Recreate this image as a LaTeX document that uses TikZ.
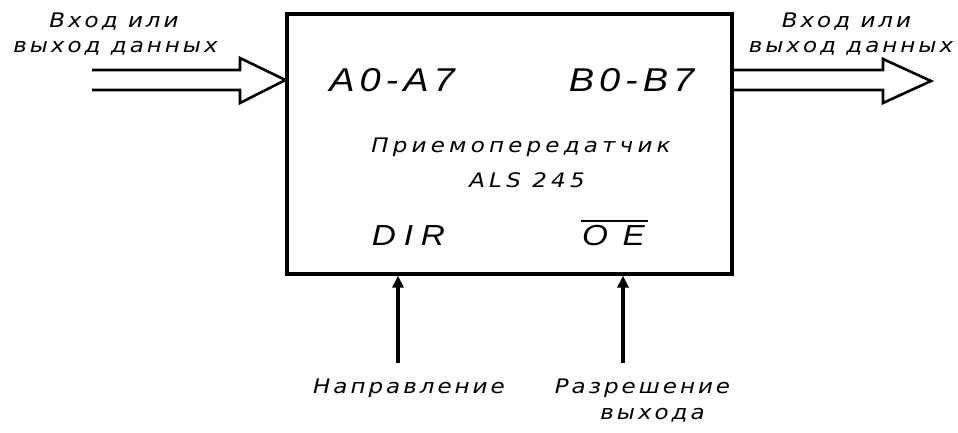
\documentclass[tikz,border=0pt]{standalone}
\usepackage{fontspec}
\usetikzlibrary{arrows.meta,calc}
\newfontfamily\labelfont[FakeStretch=1.15,LetterSpace=15]{DejaVu Sans Oblique}
\newfontfamily\pinfont[FakeStretch=1.15]{Liberation Sans Italic}
\begin{document}
\begin{tikzpicture}[x=1pt,y=-1pt,
  chip/.style={draw,line width=3.2pt,minimum width=445pt,minimum height=260pt,inner sep=0pt},
  caption/.style={inner sep=0pt,font=\labelfont\fontsize{20}{22}\selectfont},
  title/.style={inner sep=0pt,font=\labelfont\fontsize{20}{22}\selectfont\addfontfeature{LetterSpace=21}},
  pin/.style={inner sep=0pt,font=\pinfont\fontsize{33}{36}\selectfont\addfontfeature{LetterSpace=15}},
  ctlpin/.style={inner sep=0pt,font=\pinfont\fontsize{29}{32}\selectfont\addfontfeature{LetterSpace=#1}},
  bus/.style={line width=2.6pt,line join=miter},
  ctrl/.style={line width=3.2pt,-{Triangle[length=12pt,width=11pt]}}]
\useasboundingbox (0,0) rectangle (958,432);

% transceiver body
\node[chip] (box) at (509.5,144) {};

% pin groups and title
\node[pin] (a) at (392,80) {A0-A7};
\node[pin] (b) at (631.5,80) {B0-B7};
\node[title] (t1) at (521,147) {Приемопередатчик};
\node[title] (t2) at (527,180) {ALS 245};
\node[ctlpin=27] (dir) at (408.5,236) {DIR};
\node[ctlpin=50] (oe) at (613.5,236) {OE};
\coordinate (oeL) at (581,221);
\coordinate (oeR) at (648,221);
\draw[line width=1.8pt] (oeL) -- (oeR);

% data bus labels
\node[caption] (inA1) at (114,22) {Вход или};
\node[caption] (inA2) at (115.5,48) {выход данных};
\node[caption] (inB1) at (846.5,22) {Вход или};
\node[caption] (inB2) at (851,48) {выход данных};

% hollow bus arrows
\coordinate (busA) at (92,80);
\coordinate (busB) at (931,81);
\draw[bus] (92,70) -- (240,70) -- (240,58) -- (box.west |- busA) -- (240,103) -- (240,90) -- (92,90);
\draw[bus] (box.east |- 0,70) -- (883,70) -- (883,59) -- (busB) -- (883,103) -- (883,90) -- (box.east |- 0,90);

% control inputs
\coordinate (dirIn) at (398,363);
\coordinate (oeIn) at (623,363);
\draw[ctrl] (dirIn) -- (dirIn |- box.south);
\draw[ctrl] (oeIn) -- (oeIn |- box.south);
\node[caption] (lDir) at (409,388) {Направление};
\node[caption] (lOe1) at (642.5,388) {Разрешение};
\node[caption] (lOe2) at (652.5,415) {выхода};
\end{tikzpicture}
\end{document}
